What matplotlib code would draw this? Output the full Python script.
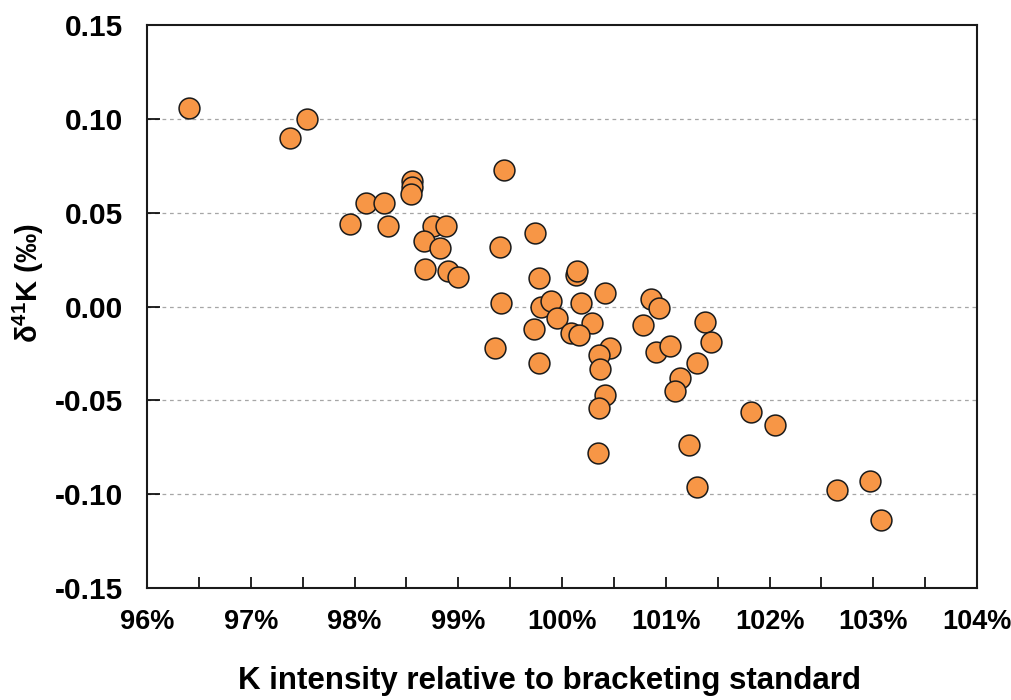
"""Scatter of d41K against K intensity relative to bracketing standard."""

import matplotlib
matplotlib.use("Agg")
import matplotlib.pyplot as plt
from matplotlib.ticker import MultipleLocator, FuncFormatter

plt.rcParams["font.family"] = ["Liberation Sans", "DejaVu Sans"]
plt.rcParams["font.weight"] = "bold"
plt.rcParams["mathtext.fontset"] = "custom"
plt.rcParams["mathtext.bf"] = "Liberation Sans:bold"
plt.rcParams["mathtext.rm"] = "Liberation Sans:bold"
plt.rcParams["mathtext.default"] = "bf"

# K intensity relative to bracketing standard (%)
k_intensity = [
    96.40, 97.38, 97.54, 98.55, 98.55, 98.54, 98.11, 98.28, 97.96, 98.32,
    99.44, 98.76, 98.88, 98.67, 98.82, 98.68, 98.90, 99.00, 99.40, 99.74,
    99.78, 99.41, 99.80, 99.89, 99.95, 99.73, 99.35, 99.78, 100.13, 100.14,
    100.18, 100.41, 100.29, 100.09, 100.16, 100.46, 100.36, 100.37, 100.41, 100.36,
    100.35, 100.86, 100.93, 100.78, 100.91, 101.04, 101.14, 101.09, 101.38, 101.44,
    101.30, 101.22, 101.30, 101.82, 102.05, 102.65, 102.97, 103.07,
]
# delta 41K (permil)
d41k = [
    0.106, 0.090, 0.100, 0.067, 0.064, 0.060, 0.055, 0.055, 0.044, 0.043,
    0.073, 0.043, 0.043, 0.035, 0.031, 0.020, 0.019, 0.016, 0.032, 0.039,
    0.015, 0.002, 0.000, 0.003, -0.006, -0.012, -0.022, -0.030, 0.017, 0.019,
    0.002, 0.007, -0.009, -0.014, -0.015, -0.022, -0.026, -0.033, -0.047, -0.054,
    -0.078, 0.004, -0.001, -0.010, -0.024, -0.021, -0.038, -0.045, -0.008, -0.019,
    -0.030, -0.074, -0.096, -0.056, -0.063, -0.098, -0.093, -0.114,
]

y_ticks = [-0.15, -0.10, -0.05, 0.00, 0.05, 0.10, 0.15]

fig = plt.figure(figsize=(10.11, 7.0), dpi=100)
ax = fig.add_axes([0.1454, 0.16, 0.821, 0.804])

# grid lines between the spines
for val in y_ticks[1:-1]:
    ax.axhline(val, color="#a6a6a6", linestyle=(0, (3, 3)), linewidth=0.9, zorder=1)

ax.scatter(k_intensity, d41k, s=225, color="#F79646", edgecolor="#1a1a1a",
           linewidth=1.1, zorder=3)

ax.set_xlim(96, 104)
ax.set_ylim(-0.15, 0.15)
ax.xaxis.set_major_locator(MultipleLocator(1))
ax.xaxis.set_minor_locator(MultipleLocator(0.5))
ax.xaxis.set_major_formatter(FuncFormatter(lambda v, p: f"{v:.0f}%"))
ax.set_yticks(y_ticks)
ax.yaxis.set_major_formatter(FuncFormatter(lambda v, p: f"{v:.2f}"))

ax.tick_params(axis="x", which="both", direction="in", length=8, width=1.2,
               labelsize=19.5, pad=15)
ax.tick_params(axis="y", direction="in", length=9, width=1.2, labelsize=21.5, pad=17)

for spine in ax.spines.values():
    spine.set_linewidth(1.5)
    spine.set_color("#1a1a1a")

ax.set_xlabel("K intensity relative to bracketing standard", fontsize=22.5,
              fontweight="bold")
ax.xaxis.set_label_coords(0.4855, -0.138)
ax.set_ylabel(r"δ$^{41}$K (‰)", fontsize=21, fontweight="bold")
ax.yaxis.set_label_coords(-0.122, 0.542)

fig.savefig("out.png", dpi=100)
